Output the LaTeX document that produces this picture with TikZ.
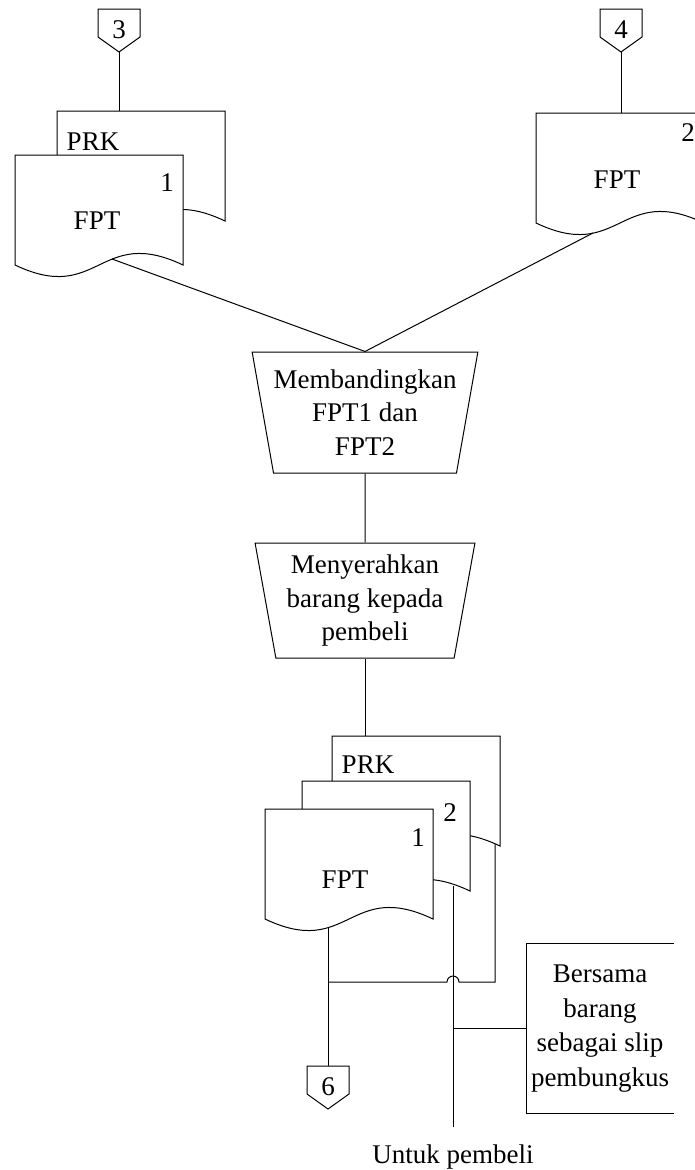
\documentclass[tikz,border=0pt]{standalone}
\usepackage{fontspec}
\setmainfont{Liberation Serif}
\usetikzlibrary{shapes.geometric, positioning}

\begin{document}
\begin{tikzpicture}[x=1pt, y=-1pt, line width=1pt,
    teks/.style={inner sep=0pt, font=\fontsize{27}{34}\selectfont},
    proses/.style={trapezium, draw, shape border rotate=180, trapezium stretches=true,
        inner sep=0pt, align=center, font=\fontsize{27}{33.5}\selectfont},
    catatan/.style={inner sep=0pt, align=center, minimum width=146pt, minimum height=169pt,
        font=\fontsize{27}{34.5}\selectfont},
    alur/.style={draw=black, line width=1pt},
    dokumen/.pic={
        \draw[fill=white] (0,0) -- (168,0) -- (168,110)
            .. controls (84,70) and (84,150) .. (0,110) -- cycle;
        \coordinate (-atas) at (0,0);
        \coordinate (-g1) at (63,119);
        \coordinate (-g2) at (151,105);
        \coordinate (-g3) at (163,108);
        \coordinate (-g4) at (97,104);
        \coordinate (-g5) at (57,120);
    },
    penghubung/.pic={
        \draw[fill=white] (-21,0) -- (21,0) -- (21,28) -- (0,43) -- (-21,28) -- cycle;
        \node[teks] (-isi) at (0,21) {#1};
        \coordinate (-atas) at (0,0);
        \coordinate (-ujung) at (0,43);
    }
]
    \useasboundingbox (0,0) rectangle (695,1170);
    \clip (0,0) rectangle (695,1170);

    % dokumen masuk
    \pic (kon3) at (119,9) {penghubung=3};
    \pic (kon4) at (621,9) {penghubung=4};

    \pic (prka) at (57,111) {dokumen};
    \pic (fpta) at (15,155) {dokumen};
    \pic (fptb) at (536,113) {dokumen};

    \node[teks] (lprka) at (93,142) {PRK};
    \node[teks] (lsatua) at (167,183) {1};
    \node[teks] (lfpta) at (97,221) {FPT};
    \node[teks] (lduab) at (688,133) {2};
    \node[teks] (lfptb) at (617,180) {FPT};

    \draw[alur] (kon3-ujung) -- (kon3-ujung |- prka-atas);
    \draw[alur] (kon4-ujung) -- (kon4-ujung |- fptb-atas);

    % proses
    \node[proses, trapezium angle=76, minimum width=224pt, minimum height=121pt]
        (banding) at (365,412.5) {Membandingkan\\FPT1 dan\\FPT2};
    \node[proses, trapezium angle=78.7, minimum width=220pt, minimum height=115pt]
        (serah) at (365,600.5) {Menyerahkan\\barang kepada\\pembeli};

    \draw[alur] (fpta-g4) -- (banding.north);
    \draw[alur] (fptb-g5) -- (banding.north);
    \draw[alur] (banding.south) -- (serah.north);

    % dokumen keluar
    \pic (prkb) at (332,736) {dokumen};
    \pic (dokb) at (302,781) {dokumen};
    \pic (doka) at (265,809) {dokumen};

    \node[teks] (lprkb) at (368,765) {PRK};
    \node[teks] (lduac) at (450,813) {2};
    \node[teks] (lsatuc) at (418,838) {1};
    \node[teks] (lfptc) at (345,880) {FPT};

    \draw[alur] (serah.south) -- (serah.south |- prkb-atas);

    \pic (kon6) at (328,1066) {penghubung=6};
    \coordinate (gabung) at (328,982);
    \draw[alur] (doka-g1) -- (kon6-atas);
    \draw[alur] (gabung) -- ++(119,0) arc (180:360:6) -- (gabung -| prkb-g3) -- (prkb-g3);

    \node[catatan] (slip) at (600,1028.5) {Bersama\\barang\\sebagai slip\\pembungkus};
    \draw[alur] (slip.north east) -- (slip.north west) -- (slip.south west) -- (slip.south east);

    \node[teks, anchor=base] (untuk) at (453,1163) {Untuk pembeli};
    \draw[alur] (dokb-g2) -- ([yshift=17pt]untuk.north);
    \draw[alur] (dokb-g2 |- slip.west) -- (slip.west);

\end{tikzpicture}
\end{document}
